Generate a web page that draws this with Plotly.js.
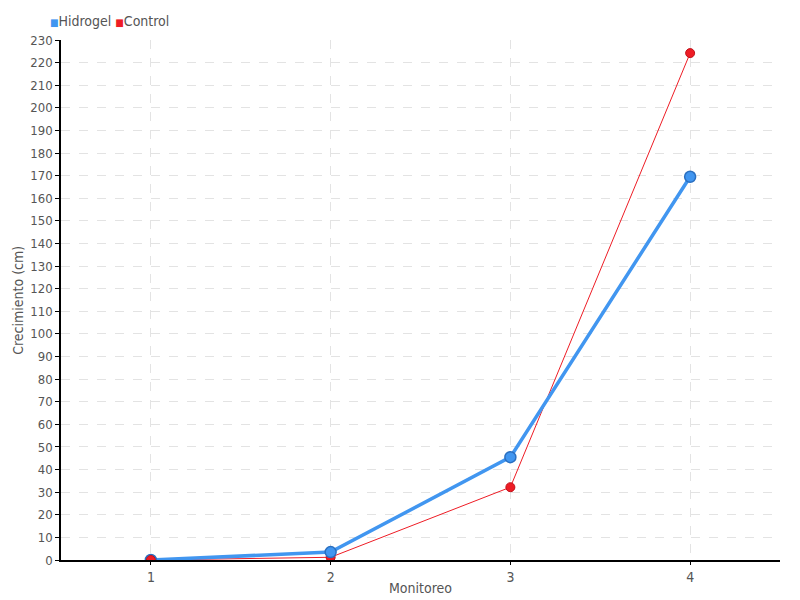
<!DOCTYPE html>
<html><head><meta charset="utf-8">
<script src="https://cdn.plot.ly/plotly-3.0.1.min.js"></script>
<style>body{margin:0;padding:0;}#chart{width:800px;height:600px;}</style>
</head><body><div id="chart"></div>
<script>
const categories = [1, 2, 3, 4];
const hidrogel = [0, 3.5, 45.5, 169.5];
const control = [0, 1.2, 32.2, 224.2];
const seriesNames = ['Hidrogel', 'Control'];
const colors = ['#4196f0', '#ee1c25'];
const yTicks = [];
for (let v = 0; v <= 230; v += 10) yTicks.push(v);

const font = {family: 'DejaVu Sans Condensed, sans-serif', size: 14, color: '#555'};
const tickFont = {family: 'DejaVu Sans Condensed, sans-serif', size: 13, color: '#555'};

const traces = [
  {x: categories, y: control, name: seriesNames[1], mode: 'lines+markers',
   line: {color: colors[1], width: 1}, marker: {color: colors[1], size: 9, line: {color: '#c0121a', width: 1}}, showlegend: false},
  {x: categories, y: hidrogel, name: seriesNames[0], mode: 'lines+markers',
   line: {color: colors[0], width: 3.5}, marker: {color: colors[0], size: 11, line: {color: '#2a6fc0', width: 1.5}}, showlegend: false},
];
traces.push({x: [categories[0]], y: [control[0]], mode: 'markers', marker: {color: colors[1], size: 9, line: {color: '#c0121a', width: 1}}, showlegend: false, hoverinfo: 'skip'});

const layout = {
  width: 800, height: 600,
  margin: {l: 61, r: 20, t: 40, b: 40},
  paper_bgcolor: '#fff', plot_bgcolor: '#fff',
  font: font,
  showlegend: false,
  xaxis: {range: [0.5, 4.5], tickvals: categories, ticktext: categories.map(String), tickfont: font,
    showline: true, linecolor: '#000', linewidth: 1.5, ticks: 'outside', ticklen: 3, tickcolor: '#000',
    showgrid: true, gridcolor: '#e3e3e3', griddash: 'dash', zeroline: false,
    title: {text: 'Monitoreo', font: font, standoff: 0}},
  yaxis: {range: [0, 230], tickvals: yTicks, tickfont: tickFont, showline: true, linecolor: '#000', linewidth: 1.5,
    ticks: 'outside', ticklen: 4, tickcolor: '#000',
    showgrid: true, gridcolor: '#e3e3e3', griddash: 'dash', zeroline: false},
  annotations: [{
    xref: 'paper', yref: 'paper', x: -0.018, y: 1.037, xanchor: 'left', yanchor: 'middle', showarrow: false,
    text: '<span style="color:' + colors[0] + ';font-size:10px">■</span>' + seriesNames[0] + ' <span style="color:' + colors[1] + ';font-size:10px">■</span>' + seriesNames[1],
    font: font
  }, {
    xref: 'paper', yref: 'paper', x: -0.06, y: 0.5, xanchor: 'center', yanchor: 'middle', showarrow: false,
    textangle: -90, text: 'Crecimiento (cm)', font: font
  }]
};
Plotly.newPlot('chart', traces, layout, {displayModeBar: false});
</script></body></html>
